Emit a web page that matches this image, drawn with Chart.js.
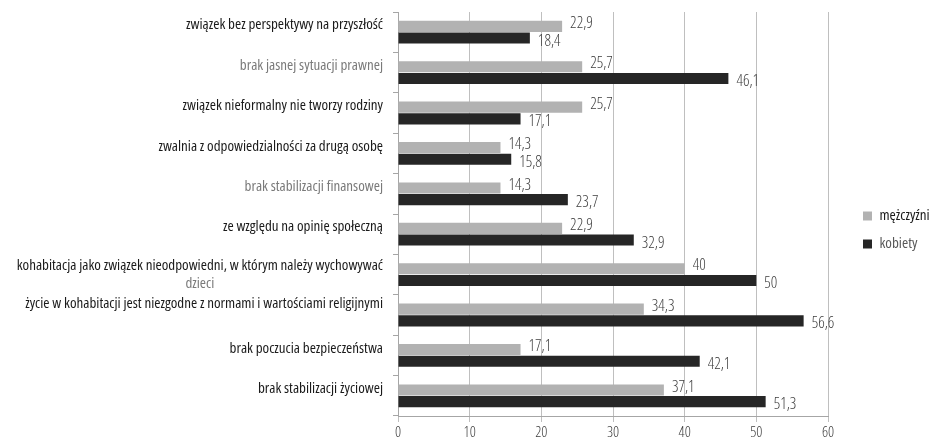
<!DOCTYPE html>
<html><head><meta charset="utf-8">
<script src="https://cdn.jsdelivr.net/npm/chart.js@4.4.0/dist/chart.umd.min.js"></script>
<style>html,body{margin:0;padding:0;background:#fff;}#wrap{position:relative;width:932px;height:445px;}</style>
</head><body><div id="wrap"><canvas id="c" width="932" height="445"></canvas></div>
<script>
const categories = [
  'związek bez perspektywy na przyszłość',
  'brak jasnej sytuacji prawnej',
  'związek nieformalny nie tworzy rodziny',
  'zwalnia z odpowiedzialności za drugą osobę',
  'brak stabilizacji finansowej',
  'ze względu na opinię społeczną',
  ['kohabitacja jako związek nieodpowiedni, w którym należy wychowywać', 'dzieci'],
  'życie w kohabitacji jest niezgodne z normami i wartościami religijnymi',
  'brak poczucia bezpieczeństwa',
  'brak stabilizacji życiowej'
];
const seriesNames = ['mężczyźni', 'kobiety'];
const men = [22.9, 25.7, 25.7, 14.3, 14.3, 22.9, 40, 34.3, 17.1, 37.1];
const women = [18.4, 46.1, 17.1, 15.8, 23.7, 32.9, 50, 56.6, 42.1, 51.3];
const xTicks = [0, 10, 20, 30, 40, 50, 60];
const labelColors = ['#1a1a1a', '#7a7a7a', '#1a1a1a', '#1a1a1a', '#7a7a7a', '#1a1a1a', '#1a1a1a', '#1a1a1a', '#1a1a1a', '#1a1a1a'];
const labelWeights = ['500', '400', '500', '500', '400', '500', '500', '500', '500', '500'];

const FAMILY = "'Open Sans', 'Roboto Condensed', sans-serif";
Chart.defaults.font.family = FAMILY;
Chart.defaults.font.weight = '300 condensed';
Chart.defaults.font.size = 15;

const valueLabels = {
  id: 'valueLabels',
  afterDatasetsDraw(chart) {
    const ctx = chart.ctx;
    ctx.save();
    ctx.font = '300 condensed 16px ' + FAMILY;
    ctx.fillStyle = '#404040';
    ctx.textBaseline = 'middle';
    ctx.textAlign = 'left';
    chart.data.datasets.forEach((ds, i) => {
      const meta = chart.getDatasetMeta(i);
      meta.data.forEach((el, j) => {
        const v = ds.data[j];
        ctx.fillText(String(v).replace('.', ','), el.x + 8, el.y + (i === 1 ? 3 : -3));
      });
    });
    ctx.restore();
  }
};

// second line of the wrapped category label is centred under the first one, in grey
const wrappedLabel = {
  id: 'wrappedLabel',
  beforeDraw(chart) {
    const s = chart.scales.y;
    const items = s.getLabelItems();
    if (items._done) return;
    items._done = true;
    const idx = items.findIndex(it => Array.isArray(it.label));
    if (idx < 0) return;
    const it = items[idx];
    const lines = it.label;
    const lh = it.font.lineHeight;
    const [x, y] = it.options.translation;
    const ctx = chart.ctx;
    ctx.save();
    ctx.font = it.font.string;
    const w = ctx.measureText(lines[0]).width;
    ctx.restore();
    const yc = y + 7;
    it.label = lines[0];
    it.textOffset = -lh / 2;
    it.options = Object.assign({}, it.options, { translation: [x, yc] });
    items.push({
      label: lines[1],
      font: it.font,
      textOffset: lh / 2,
      options: Object.assign({}, it.options, { textAlign: 'center', color: '#7a7a7a', translation: [x - w / 2, yc] })
    });
    const nxt = items[idx + 1];
    if (nxt && nxt !== items[items.length - 1]) {
      nxt.options = Object.assign({}, nxt.options, { translation: [nxt.options.translation[0], nxt.options.translation[1] - 4] });
    }
  }
};

const legendPlace = {
  id: 'legendPlace',
  beforeLayout(chart) {
    const lg = chart.legend;
    if (lg && !lg._patched) {
      lg._patched = true;
      const f = lg.fit;
      lg.fit = function () { f.call(this); this.width = 104; };
    }
  },
  afterLayout(chart) {
    const lg = chart.legend;
    if (lg) { lg.left += 22; lg.top += 3; }
  }
};

new Chart(document.getElementById('c'), {
  type: 'bar',
  data: {
    labels: categories,
    datasets: [
      { label: seriesNames[0], data: men, backgroundColor: '#b2b2b2', categoryPercentage: 0.58, barPercentage: 0.95 },
      { label: seriesNames[1], data: women, backgroundColor: '#262626', categoryPercentage: 0.58, barPercentage: 0.95 }
    ]
  },
  options: {
    indexAxis: 'y',
    responsive: false,
    animation: false,
    layout: { padding: { top: 12, left: 0, right: 0, bottom: 0 } },
    scales: {
      x: {
        min: xTicks[0], max: xTicks[xTicks.length - 1],
        afterBuildTicks(s) { s.ticks = xTicks.map(v => ({ value: v })); },
        afterFit(s) { s.height = 29; },
        grid: { color: '#bfbfbf', tickLength: 6, lineWidth: 1 },
        border: { color: '#a6a6a6' },
        ticks: { color: '#404040', padding: 2, font: { size: 15, weight: '300 condensed' } }
      },
      y: {
        offset: true,
        afterFit(s) { s.width = 398; s.paddingTop = 0; s.paddingBottom = 0; },
        grid: { offset: true, drawOnChartArea: false, tickLength: 5, color: '#a6a6a6' },
        border: { color: '#a6a6a6' },
        ticks: {
          padding: 10,
          labelOffset: -7,
          color: c => labelColors[c.index],
          font: c => ({ size: 15, weight: labelWeights[c.index] + ' condensed' })
        }
      }
    },
    plugins: {
      tooltip: { enabled: false },
      legend: {
        position: 'right',
        labels: {
          boxWidth: 9, boxHeight: 9, padding: 13, font: { size: 15, weight: '400 condensed' },
          generateLabels(chart) {
            const items = Chart.defaults.plugins.legend.labels.generateLabels(chart);
            items.forEach((it, i) => { it.fontColor = i === 0 ? '#1a1a1a' : '#595959'; it.lineWidth = 0; });
            return items;
          }
        }
      }
    }
  },
  plugins: [valueLabels, wrappedLabel, legendPlace]
});
</script></body></html>
